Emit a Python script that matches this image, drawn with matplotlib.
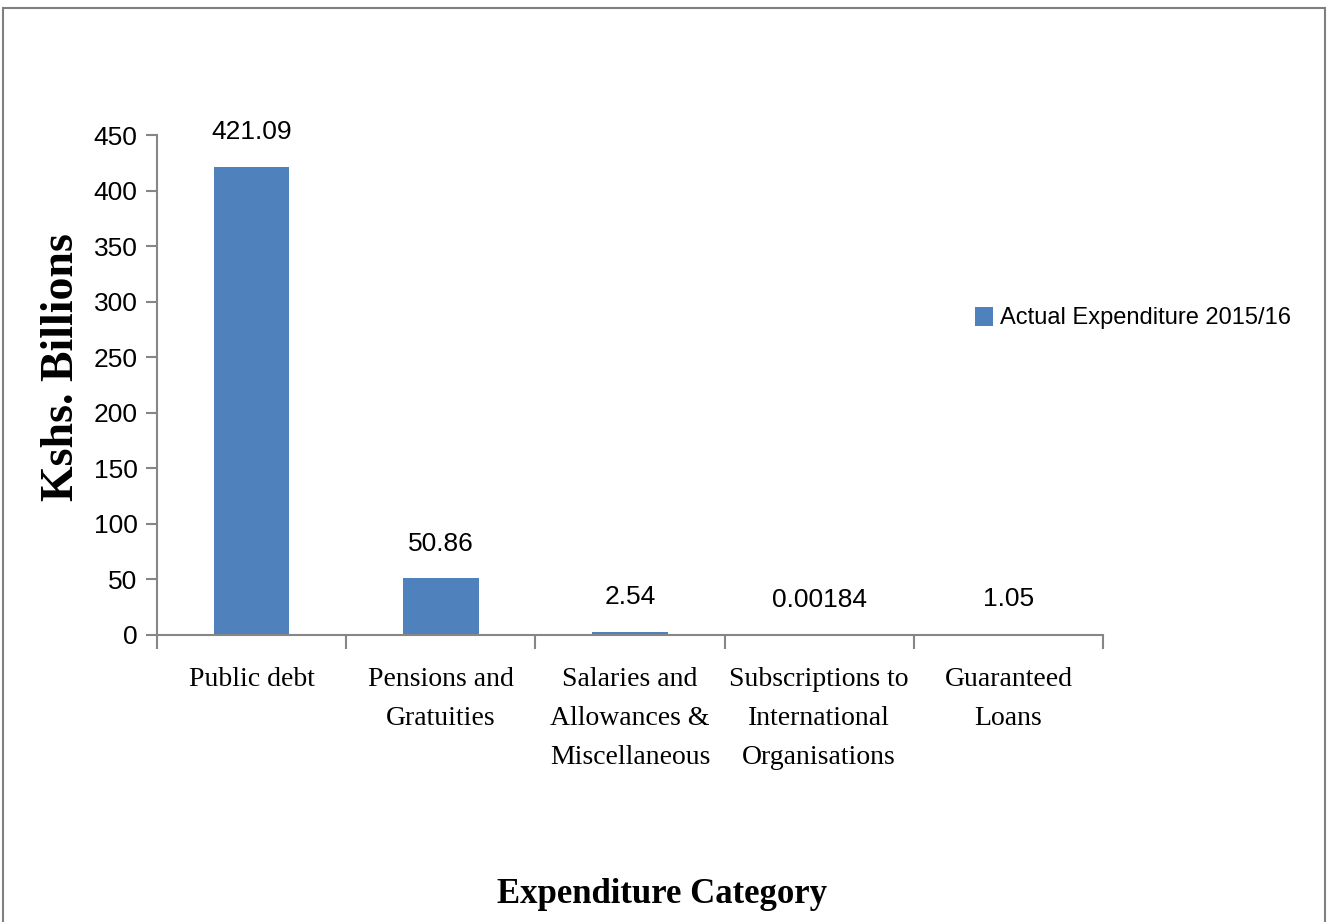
import matplotlib
matplotlib.use("Agg")
import matplotlib.pyplot as plt
from matplotlib.patches import Rectangle

# data
categories = ["Public debt", "Pensions and\nGratuities", "Salaries and\nAllowances &\nMiscellaneous",
              "Subscriptions to\nInternational\nOrganisations", "Guaranteed\nLoans"]
values = [421.09, 50.86, 2.54, 0.00184, 1.05]
value_labels = ["421.09", "50.86", "2.54", "0.00184", "1.05"]
series_name = "Actual Expenditure 2015/16"
y_ticks = list(range(0, 451, 50))

num_font = ["Liberation Sans", "DejaVu Sans"]
serif_font = ["Liberation Serif", "DejaVu Serif"]
bar_color = "#4F81BD"
axis_color = "#868686"

fig = plt.figure(figsize=(13.29, 9.22), dpi=100)
ax = fig.add_axes([157 / 1329, 1 - 635 / 922, (1103 - 157) / 1329, (635 - 135) / 922])

x = list(range(len(categories)))
bars = ax.bar(x, values, width=0.4, color=bar_color, label=series_name, zorder=2)

for xi, v, lab in zip(x, values, value_labels):
    ax.annotate(lab, (xi, v), xytext=(0, 25), textcoords="offset points",
                ha="center", va="center", fontsize=19, family=num_font)

ax.set_xlim(-0.5, len(categories) - 0.5)
ax.set_ylim(0, 450)
ax.set_yticks(y_ticks)
ax.set_yticklabels([str(t) for t in y_ticks], family=num_font, fontsize=19)

ax.set_xticks(x)
ax.set_xticklabels(categories, family=serif_font, fontsize=20, linespacing=1.75, va="top")
ax.set_xticks([i - 0.5 for i in range(len(categories) + 1)], minor=True)
ax.tick_params(axis="x", which="major", length=0, pad=23)
ax.tick_params(axis="x", which="minor", length=10, width=1.5, color=axis_color, direction="out")
ax.tick_params(axis="y", length=8, width=1.5, color=axis_color, direction="out", pad=6)

for side in ["top", "right"]:
    ax.spines[side].set_visible(False)
for side in ["left", "bottom"]:
    ax.spines[side].set_color(axis_color)
    ax.spines[side].set_linewidth(1.5)

fig.text(62 / 1329, 1 - 367 / 922, "Kshs. Billions", rotation=90, ha="center", va="center",
         family=serif_font, fontweight="bold", fontsize=33)
fig.text(662 / 1329, 1 - 894 / 922, "Expenditure Category", ha="center", va="center",
         family=serif_font, fontweight="bold", fontsize=25)

fig.legend(handles=[bars], labels=[series_name], loc="center left",
           bbox_to_anchor=(966 / 1329, 1 - 318 / 922), frameon=False,
           prop={"family": num_font, "size": 17}, handlelength=0.75, handleheight=0.9,
           handletextpad=0.3, borderaxespad=0)

# outer border
fig.patches.append(Rectangle((3 / 1329, -0.02), (1325 - 3) / 1329, 1 - 8 / 922 + 0.02,
                             transform=fig.transFigure, fill=False, edgecolor="#808080",
                             linewidth=1.5, clip_on=False))

fig.savefig("out.png", dpi=100)
